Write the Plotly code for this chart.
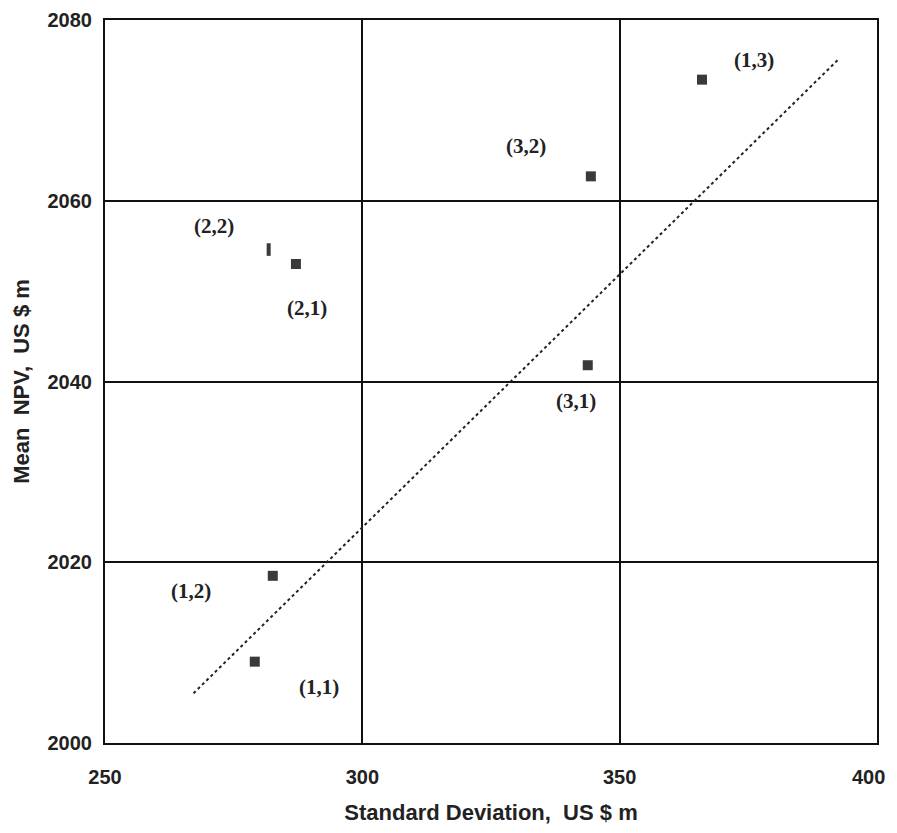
import plotly.graph_objects as go

# Data
labels = ["(1,1)", "(1,2)", "(1,3)", "(2,1)", "(2,2)", "(3,1)", "(3,2)"]
std_dev = [279.1, 282.6, 366.0, 287.1, 281.8, 343.8, 344.4]
mean_npv = [2009.0, 2018.5, 2073.4, 2053.0, 2054.6, 2041.8, 2062.7]
trend_x = [267.2, 392.6]
trend_y = [2005.5, 2075.7]
x_ticks = [250, 300, 350, 400]
y_ticks = [2000, 2020, 2040, 2060, 2080]

# label offsets in pixels (style)
offsets = {
    "(1,1)": (64, -25), "(1,2)": (-82, -15), "(1,3)": (52, 20),
    "(2,1)": (11, -44), "(2,2)": (-55, 24), "(3,1)": (-12, -36),
    "(3,2)": (-65, 30),
}

fig = go.Figure()
fig.add_trace(go.Scatter(x=trend_x, y=trend_y, mode="lines",
                         line=dict(color="#222", width=2, dash="dot"),
                         hoverinfo="skip", showlegend=False))

main_idx = [i for i, l in enumerate(labels) if l != "(2,2)"]
fig.add_trace(go.Scatter(x=[std_dev[i] for i in main_idx], y=[mean_npv[i] for i in main_idx],
                         mode="markers",
                         marker=dict(symbol="square", size=10, color="#3a3a3a",
                                     line=dict(width=0)),
                         showlegend=False))
thin_idx = [i for i, l in enumerate(labels) if l == "(2,2)"]
fig.add_trace(go.Scatter(x=[std_dev[i] for i in thin_idx], y=[mean_npv[i] for i in thin_idx],
                         mode="markers",
                         marker=dict(symbol="line-ns", size=9, color="#3a3a3a",
                                     line=dict(width=4, color="#3a3a3a")),
                         showlegend=False))

for l, x, y in zip(labels, std_dev, mean_npv):
    dx, dy = offsets[l]
    fig.add_annotation(x=x, y=y, text=f"<b>{l}</b>", showarrow=False, xshift=dx, yshift=dy,
                       font=dict(family="Liberation Serif", size=21, color="#222"))

axis_common = dict(showgrid=True, gridcolor="#111", gridwidth=2,
                   showline=True, linecolor="#111", linewidth=2, mirror=True,
                   zeroline=False, ticks="", automargin=False,
                   ticklabeloverflow="allow",
                   tickfont=dict(family="Liberation Sans", size=20, color="#222"))

# keep the last x tick label inside the visible page (trailing no-break spaces)
x_ticktext = [f"<b>{v}</b>" for v in x_ticks]
x_ticktext[-1] = x_ticktext[-1] + "\u00a0\u00a0\u00a0"

fig.update_xaxes(range=[250, 400], tickvals=x_ticks,
                 ticktext=x_ticktext,
                 ticklabelstandoff=15,
                 title=dict(text="<b>Standard Deviation,  US $ m</b>",
                            font=dict(family="Liberation Sans", size=22, color="#222"),
                            standoff=24),
                 **axis_common)
fig.update_yaxes(range=[2000, 2080], tickvals=y_ticks,
                 ticktext=[f"<b>{v}</b>" for v in y_ticks],
                 ticklabelstandoff=7,
                 title=dict(text="<b>Mean  NPV,  US $ m</b>",
                            font=dict(family="Liberation Sans", size=22, color="#222"),
                            standoff=12),
                 **axis_common)

fig.update_layout(width=881, height=817, plot_bgcolor="white", paper_bgcolor="white",
                  margin=dict(l=97, r=12, t=12, b=82))

fig.write_html("out.html")
